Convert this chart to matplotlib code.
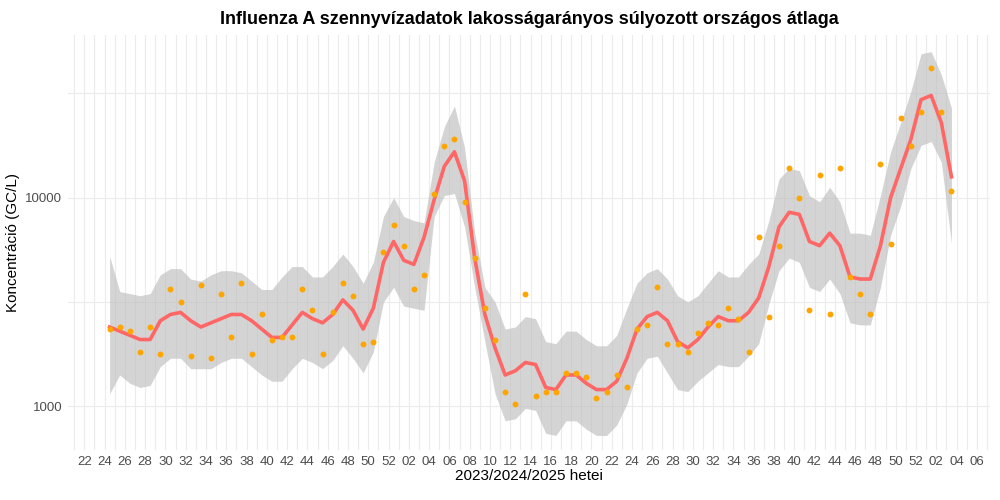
import numpy as np
import matplotlib
matplotlib.use("Agg")
import matplotlib.pyplot as plt
from matplotlib.ticker import FixedLocator, NullFormatter

plt.rcParams["font.family"] = "Liberation Sans"

# week index (0 = week 22 of 2023), points sit mid-week
weeks = np.arange(2.5, 86.5, 1.0)

# log10 of concentration (GC/L)
log_points = [3.37,3.38,3.36,3.26,3.38,3.25,3.56,3.50,3.24,3.58,3.23,3.54,3.33,3.59,3.25,3.44,3.32,3.33,3.33,3.56,
              3.46,3.25,3.45,3.59,3.53,3.30,3.31,3.74,3.87,3.77,3.56,3.63,4.02,4.25,4.28,3.98,3.71,3.47,3.32,3.07,3.01,
              3.54,3.05,3.07,3.07,3.16,3.16,3.14,3.04,3.07,3.15,3.09,3.37,3.39,3.57,3.30,3.30,3.26,3.35,3.40,3.39,
              3.47,3.42,3.26,3.81,3.43,3.77,4.14,4.00,3.46,4.11,3.44,4.14,3.62,3.54,3.44,4.16,3.78,4.38,4.25,4.41,
              4.62,4.41,4.03]
log_trend = [3.38,3.36,3.34,3.32,3.32,3.41,3.44,3.45,3.41,3.38,3.40,3.42,3.44,3.44,3.41,3.37,3.33,3.33,3.39,3.45,
             3.42,3.40,3.44,3.51,3.46,3.37,3.47,3.69,3.79,3.70,3.68,3.81,3.99,4.15,4.22,4.08,3.71,3.44,3.28,3.15,3.17,
             3.21,3.20,3.09,3.08,3.15,3.15,3.11,3.08,3.08,3.12,3.23,3.37,3.43,3.45,3.41,3.31,3.28,3.32,3.38,3.43,
             3.41,3.41,3.45,3.52,3.67,3.86,3.93,3.92,3.79,3.77,3.83,3.77,3.62,3.61,3.61,3.77,4.00,4.14,4.28,4.47,
             4.49,4.36,4.10]
log_upper = [3.72,3.55,3.54,3.53,3.54,3.63,3.66,3.66,3.61,3.60,3.63,3.65,3.65,3.64,3.60,3.56,3.56,3.62,3.67,3.67,
             3.62,3.62,3.67,3.73,3.67,3.59,3.69,3.91,4.00,3.91,3.89,3.88,4.17,4.34,4.44,4.24,3.83,3.57,3.50,3.37,3.38,
             3.43,3.42,3.31,3.30,3.36,3.36,3.32,3.29,3.29,3.34,3.47,3.59,3.64,3.66,3.61,3.53,3.50,3.53,3.59,3.65,
             3.62,3.62,3.68,3.73,3.89,4.09,4.14,4.13,4.01,3.98,4.05,3.98,3.83,3.83,3.82,4.01,4.22,4.36,4.51,4.69,
             4.70,4.59,4.43]
log_lower = [3.06,3.15,3.11,3.09,3.10,3.19,3.23,3.23,3.18,3.18,3.18,3.21,3.23,3.23,3.19,3.15,3.12,3.12,3.18,3.23,
             3.21,3.18,3.22,3.29,3.23,3.16,3.26,3.50,3.57,3.48,3.47,3.46,3.91,4.01,4.02,3.86,3.57,3.31,3.06,2.93,2.94,
             2.99,2.98,2.87,2.86,2.93,2.93,2.89,2.86,2.86,2.91,3.01,3.16,3.23,3.24,3.16,3.08,3.07,3.12,3.16,3.20,
             3.19,3.19,3.24,3.30,3.49,3.65,3.71,3.69,3.57,3.55,3.61,3.54,3.40,3.39,3.39,3.57,3.82,3.96,4.14,4.25,
             4.27,4.17,3.78]

tick_labels = ["22","24","26","28","30","32","34","36","38","40","42","44","46","48","50","52",
               "02","04","06","08","10","12","14","16","18","20","22","24","26","28","30","32","34","36","38","40",
               "42","44","46","48","50","52","02","04","06"]
tick_pos = np.arange(0, 2 * len(tick_labels), 2)

points = 10 ** np.array(log_points)
trend = 10 ** np.array(log_trend)
upper = 10 ** np.array(log_upper)
lower = 10 ** np.array(log_lower)

fig = plt.figure(figsize=(10, 5), dpi=100)
ax = fig.add_axes([0.068, 0.10, 0.922, 0.83])
ax.set_yscale("log")
ax.fill_between(weeks, lower, upper, color="#bebebe", alpha=0.65, linewidth=0, zorder=2)
ax.plot(weeks, trend, color="#ff6666", linewidth=2.6, zorder=3)
ax.scatter(weeks, points, color="#ffa500", s=18, zorder=4, linewidths=0)

ax.set_xlim(-1.6, 89.3)
ax.set_ylim(617, 60256)
ax.xaxis.set_major_locator(FixedLocator(tick_pos))
ax.xaxis.set_minor_locator(FixedLocator(np.arange(-1, 90, 1)))
ax.set_xticklabels(tick_labels)
ax.xaxis.set_minor_formatter(NullFormatter())
ax.yaxis.set_major_locator(FixedLocator([1000, 10000]))
ax.set_yticklabels(["1000", "10000"])
ax.yaxis.set_minor_locator(FixedLocator([10 ** 3.5, 10 ** 4.5]))
ax.yaxis.set_minor_formatter(NullFormatter())
ax.grid(True, which="both", color="#ebebeb", linewidth=0.8, zorder=0)
ax.set_axisbelow(True)
for s in ax.spines.values():
    s.set_visible(False)
ax.tick_params(which="both", length=0, labelsize=9.5, colors="#4d4d4d", pad=4)
ax.set_xlabel("2023/2024/2025 hetei", fontsize=11, labelpad=1)
ax.set_ylabel("Koncentráció (GC/L)", fontsize=11)
ax.set_title("Influenza A szennyvízadatok lakosságarányos súlyozott országos átlaga",
             fontsize=13, fontweight="bold", pad=8)
fig.savefig("out.png", dpi=100, facecolor="white")
